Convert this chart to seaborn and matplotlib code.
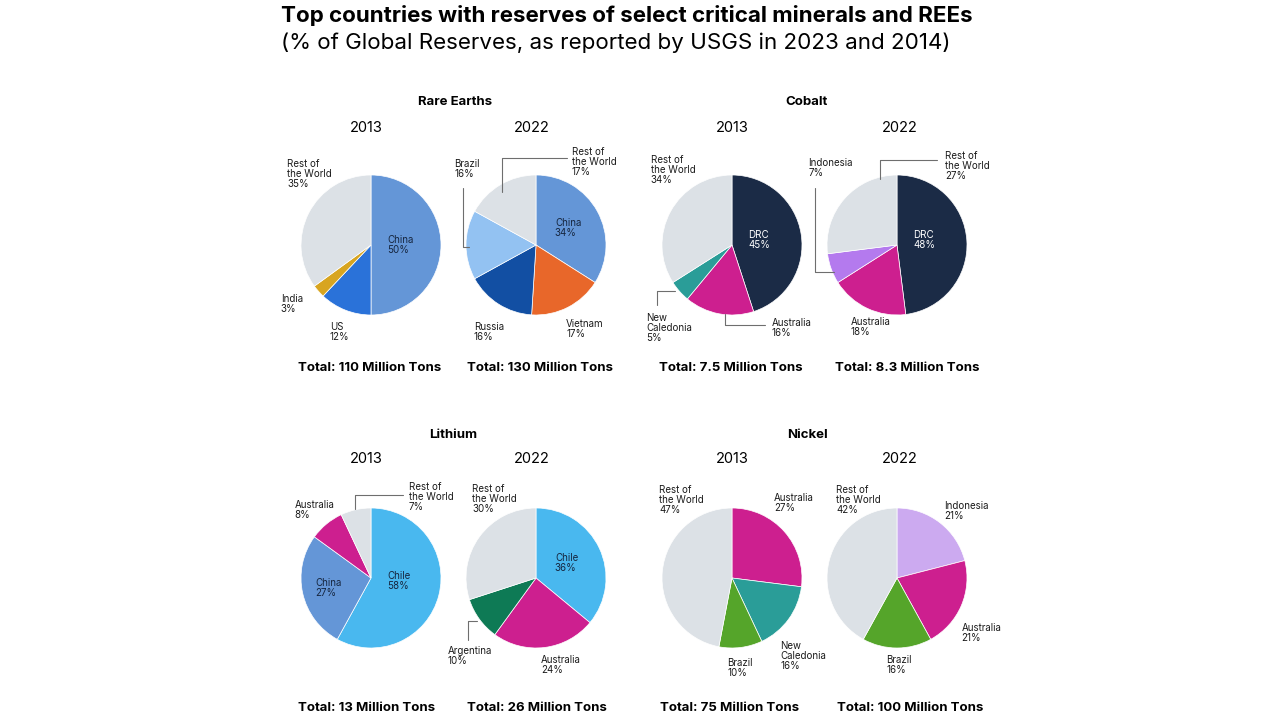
import matplotlib
matplotlib.use("Agg")
import matplotlib.pyplot as plt
import seaborn as sns

sns.set_theme(style="white")
plt.rcParams['font.family'] = ['Inter', 'DejaVu Sans']

W, H = 1280, 720

# ---- data ----
minerals = ["Rare Earths", "Cobalt", "Lithium", "Nickel"]
years = ["2013", "2022"]
totals = ["110", "130", "7.5", "8.3", "13", "26", "75", "100"]

re13_names = ["China", "US", "India", "Rest of\nthe World"]
re13_values = [50, 12, 3, 35]
re22_names = ["China", "Vietnam", "Russia", "Brazil", "Rest of\nthe World"]
re22_values = [34, 17, 16, 16, 17]
co13_names = ["DRC", "Australia", "New\nCaledonia", "Rest of\nthe World"]
co13_values = [45, 16, 5, 34]
co22_names = ["DRC", "Australia", "Indonesia", "Rest of\nthe World"]
co22_values = [48, 18, 7, 27]
li13_names = ["Chile", "China", "Australia", "Rest of\nthe World"]
li13_values = [58, 27, 8, 7]
li22_names = ["Chile", "Australia", "Argentina", "Rest of\nthe World"]
li22_values = [36, 24, 10, 30]
ni13_names = ["Australia", "New\nCaledonia", "Brazil", "Rest of\nthe World"]
ni13_values = [27, 16, 10, 47]
ni22_names = ["Indonesia", "Australia", "Brazil", "Rest of\nthe World"]
ni22_values = [21, 21, 16, 42]

# ---- colours ----
ROW = "#DCE1E6"
CHINA = "#6496D7"
AUS = "#CD1F8F"
NAVY = "#1B2B46"
re13_colors = [CHINA, "#2A72D9", "#D8A520", ROW]
re22_colors = [CHINA, "#E8672A", "#124FA3", "#93C2F2", ROW]
co13_colors = [NAVY, AUS, "#2A9D98", ROW]
co22_colors = [NAVY, AUS, "#B47AEE", ROW]
li13_colors = ["#49B8EF", CHINA, AUS, ROW]
li22_colors = ["#49B8EF", AUS, "#0E7A55", ROW]
ni13_colors = [AUS, "#2A9D98", "#55A52A", ROW]
ni22_colors = ["#CCAAF0", AUS, "#55A52A", ROW]

# ---- layout: pie centres (px), label offsets / leader lines in radius units ----
R = 70
pies = [
    dict(c=(371, 245), names=re13_names, vals=re13_values, cols=re13_colors,
         pos=[(0.23, 0.0), (-0.59, -1.25), (-1.29, -0.85), (-1.2, 1.02)],
         inside=[0], lines={}),
    dict(c=(536, 245), names=re22_names, vals=re22_values, cols=re22_colors,
         pos=[(0.27, 0.25), (0.43, -1.2), (-0.89, -1.25), (-1.17, 1.09), (0.51, 1.19)],
         inside=[0],
         lines={3: [(-1.04, 0.82), (-1.04, -0.03), (-0.96, -0.03)],
                4: [(-0.49, 0.76), (-0.49, 1.24), (0.44, 1.24)]}),
    dict(c=(732, 245), names=co13_names, vals=co13_values, cols=co13_colors,
         pos=[(0.23, 0.07), (0.57, -1.18), (-1.23, -1.18), (-1.16, 1.07)],
         inside=[0], white=True,
         lines={1: [(-0.1, -0.99), (-0.1, -1.14), (0.47, -1.14)],
                2: [(-0.81, -0.66), (-1.07, -0.66), (-1.07, -0.86)]}),
    dict(c=(897, 245), names=co22_names, vals=co22_values, cols=co22_colors,
         pos=[(0.23, 0.07), (-0.66, -1.17), (-1.27, 1.1), (0.69, 1.13)],
         inside=[0], white=True,
         lines={2: [(-1.17, 0.81), (-1.17, -0.39), (-0.9, -0.39)],
                3: [(-0.24, 0.94), (-0.24, 1.21), (0.57, 1.21)]}),
    dict(c=(371, 578), names=li13_names, vals=li13_values, cols=li13_colors,
         pos=[(0.23, -0.04), (-0.79, -0.14), (-1.09, 0.97), (0.54, 1.16)],
         inside=[0, 1],
         lines={3: [(-0.23, 0.99), (-0.23, 1.19), (0.46, 1.19)]}),
    dict(c=(536, 578), names=li22_names, vals=li22_values, cols=li22_colors,
         pos=[(0.27, 0.21), (0.07, -1.24), (-1.26, -1.11), (-0.91, 1.13)],
         inside=[0],
         lines={2: [(-0.84, -0.61), (-0.97, -0.61), (-0.97, -0.89)]}),
    dict(c=(732, 578), names=ni13_names, vals=ni13_values, cols=ni13_colors,
         pos=[(0.6, 1.07), (0.69, -1.11), (-0.07, -1.29), (-1.04, 1.12)],
         inside=[], lines={}),
    dict(c=(897, 578), names=ni22_names, vals=ni22_values, cols=ni22_colors,
         pos=[(0.68, 0.96), (0.92, -0.79), (-0.15, -1.24), (-0.87, 1.12)],
         inside=[], lines={}),
]

fig = plt.figure(figsize=(W / 100, H / 100), dpi=100)
fig.patch.set_facecolor("white")


def fx(x):
    return x / W


def fy(y):
    return 1 - y / H


half = 120
lim = half / R
for p in pies:
    cx, cy = p["c"]
    ax = fig.add_axes([fx(cx - half), fy(cy + half), 2 * half / W, 2 * half / H])
    ax.pie(p["vals"], colors=p["cols"], startangle=90, counterclock=False,
           radius=1, wedgeprops=dict(edgecolor="white", linewidth=0.5))
    ax.set_xlim(-lim, lim)
    ax.set_ylim(-lim, lim)
    ax.set_aspect("equal")
    ax.axis("off")
    for i, (name, v) in enumerate(zip(p["names"], p["vals"])):
        dx, dy = p["pos"][i]
        col = "#1B1B1B"
        if i in p["inside"]:
            col = "white" if p.get("white") else "#16263F"
        ax.text(dx, dy, f"{name}\n{v}%", ha="left", va="center", fontsize=7,
                color=col, linespacing=1.0, multialignment="left", clip_on=False)
    for i, pts in p["lines"].items():
        xs = [a for a, b in pts]
        ys = [b for a, b in pts]
        ax.plot(xs, ys, color="#6E6E6E", lw=0.8, clip_on=False)

# titles
fig.text(fx(281), fy(16), "Top countries with reserves of select critical minerals and REEs",
         ha="left", va="center", fontsize=16.1, fontweight="bold", color="black")
fig.text(fx(281), fy(43), "(% of Global Reserves, as reported by USGS in 2023 and 2014)",
         ha="left", va="center", fontsize=16.1, color="black")

title_pos = [(455, 102), (807, 102), (453, 435), (807, 435)]
for name, (x, y) in zip(minerals, title_pos):
    fig.text(fx(x), fy(y), name, ha="center", va="center", fontsize=9.5,
             fontweight="bold", color="black")

year_pos = [(366, 128), (532, 128), (732, 128), (900, 128),
            (366, 459), (532, 459), (732, 459), (900, 459)]
for k, (x, y) in enumerate(year_pos):
    fig.text(fx(x), fy(y), years[k % 2], ha="center", va="center", fontsize=10.5,
             color="black")

total_pos = [(370, 368), (540, 368), (731, 368), (907, 368),
             (367, 708), (537, 708), (730, 708), (910, 708)]
for t, (x, y) in zip(totals, total_pos):
    fig.text(fx(x), fy(y), f"Total: {t} Million Tons", ha="center", va="center",
             fontsize=9.5, fontweight="bold", color="black")

fig.savefig("out.png", dpi=100, facecolor="white")
